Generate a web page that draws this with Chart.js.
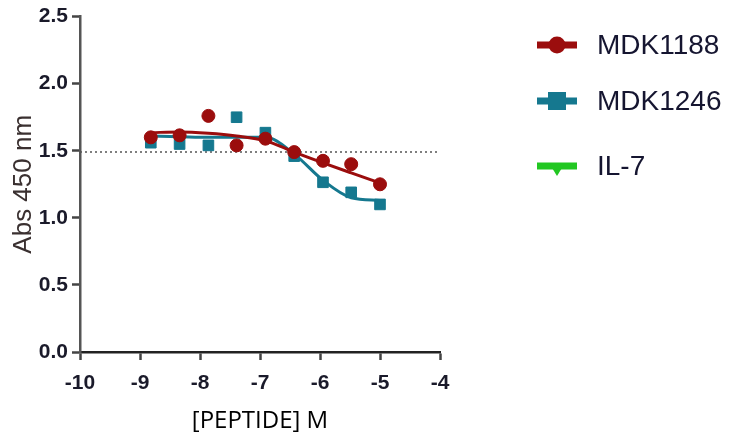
<!DOCTYPE html>
<html>
<head>
<meta charset="utf-8">
<script src="https://cdn.jsdelivr.net/npm/chart.js@4/dist/chart.umd.min.js"></script>
<style>
  html, body { margin: 0; padding: 0; background: #fff; }
  #wrap { width: 743px; height: 446px; position: relative; }
</style>
</head>
<body>
<div id="wrap"><canvas id="myChart"></canvas></div>
<script>
// log concentration of peptide (3-fold dilutions from 10 uM)
const logConc = [-8.82, -8.34, -7.86, -7.39, -6.91, -6.43, -5.95, -5.48, -5.0];

// measured absorbance
const mdk1188 = [1.60, 1.615, 1.76, 1.54, 1.59, 1.49, 1.425, 1.40, 1.25];
const mdk1246 = [1.56, 1.55, 1.54, 1.75, 1.635, 1.46, 1.265, 1.19, 1.10];
const il7 = [];

// fitted curves
const fit1188 = [1.635, 1.64, 1.63, 1.61, 1.575, 1.49, 1.41, 1.335, 1.26];
const fit1246 = [1.61, 1.605, 1.60, 1.60, 1.60, 1.475, 1.28, 1.15, 1.13];

// dotted reference line
const refX = [-10, -4];
const refY = [1.49, 1.49];

const xTicks = [-10, -9, -8, -7, -6, -5, -4];
const yTicks = [0, 0.5, 1, 1.5, 2, 2.5];

const RED = '#9b0d0d';
const TEAL = '#15788f';
const GREEN = '#22c722';

const tickFont = { family: '"Liberation Sans", Arial, sans-serif', size: 21, weight: 'bold' };

const pts = (xs, ys) => ys.map((y, i) => ({ x: xs[i], y: y }));

const legendLabels = ['MDK1188', 'MDK1246', 'IL-7'];
const legendColors = [RED, TEAL, GREEN];
const legendMarkers = ['circle', 'square', 'triangle'];

const sideLegend = {
  id: 'sideLegend',
  afterDraw(chart) {
    const c = chart.ctx;
    const rows = [45, 101, 166];
    c.save();
    legendLabels.forEach((label, i) => {
      const y = rows[i];
      const x0 = 537, x1 = 577, xm = 557;
      c.fillStyle = legendColors[i];
      c.fillRect(x0, y - 3.5, x1 - x0, 7);
      c.beginPath();
      if (legendMarkers[i] === 'circle') {
        c.arc(xm, y, 8.5, 0, Math.PI * 2);
      } else if (legendMarkers[i] === 'square') {
        c.rect(xm - 9, y - 9, 18, 18);
      } else {
        c.moveTo(xm - 8, y - 3);
        c.lineTo(xm + 8, y - 3);
        c.lineTo(xm, y + 10);
        c.closePath();
      }
      c.fill();
      c.fillStyle = '#151530';
      c.font = '28px "Liberation Sans", Arial, sans-serif';
      c.textBaseline = 'middle';
      c.fillText(label, 597, y + 1);
    });
    c.restore();
  },
};

const ctx = document.getElementById('myChart').getContext('2d');

const chart = new Chart(ctx, {
  type: 'scatter',
  data: {
    datasets: [
      {
        label: 'MDK1188',
        data: pts(logConc, mdk1188),
        backgroundColor: RED,
        borderColor: RED,
        pointStyle: 'circle',
        pointRadius: 6.5,
        order: 1,
      },
      {
        label: 'MDK1246',
        data: pts(logConc, mdk1246),
        backgroundColor: TEAL,
        borderColor: TEAL,
        pointStyle: 'rect',
        pointRadius: 7.5,
        order: 2,
      },
      {
        label: 'IL-7',
        data: il7,
        backgroundColor: GREEN,
        borderColor: GREEN,
        pointStyle: 'triangle',
        order: 3,
      },
      {
        label: 'fit 1188',
        type: 'line',
        data: pts(logConc, fit1188),
        borderColor: RED,
        borderWidth: 3,
        pointRadius: 0,
        cubicInterpolationMode: 'monotone',
        order: 4,
      },
      {
        label: 'fit 1246',
        type: 'line',
        data: pts(logConc, fit1246),
        borderColor: TEAL,
        borderWidth: 3,
        pointRadius: 0,
        cubicInterpolationMode: 'monotone',
        order: 5,
      },
      {
        label: 'ref',
        type: 'line',
        data: pts(refX, refY),
        borderColor: '#555',
        borderWidth: 1.5,
        borderDash: [2, 3],
        pointRadius: 0,
        order: 6,
      },
    ],
  },
  options: {
    responsive: true,
    maintainAspectRatio: false,
    animation: false,
    layout: { padding: { left: 0, right: 303, top: 15, bottom: 0 } },
    plugins: {
      legend: { display: false },
      tooltip: { enabled: false },
    },
    scales: {
      x: {
        type: 'linear',
        min: -10,
        max: -4,
        afterFit(scale) { scale.height = 94; },
        afterBuildTicks(scale) { scale.ticks = xTicks.map(v => ({ value: v })); },
        border: { display: true, color: '#222', width: 2.5 },
        grid: { drawOnChartArea: false, drawTicks: true, tickLength: 8, tickWidth: 2.5, tickColor: '#444' },
        ticks: {
          color: '#1a1a2a',
          padding: 11,
          font: tickFont,
          callback: (v) => String(v),
        },
        title: {
          display: true,
          text: '[PEPTIDE] M',
          color: '#000',
          font: { family: '"Open Sans", sans-serif', size: 24 },
          padding: { top: 0, bottom: 10 },
        },
      },
      y: {
        type: 'linear',
        min: 0,
        max: 2.5,
        afterFit(scale) { scale.width = 80; },
        afterBuildTicks(scale) { scale.ticks = yTicks.map(v => ({ value: v })); },
        border: { display: true, color: '#555', width: 2.5 },
        grid: { drawOnChartArea: false, drawTicks: true, tickLength: 8, tickWidth: 2.5, tickColor: '#444' },
        ticks: {
          color: '#1a1a2a',
          padding: 4,
          font: tickFont,
          callback: (v) => Number(v).toFixed(1),
        },
        title: {
          display: true,
          text: 'Abs 450 nm',
          color: '#3a3030',
          font: { family: '"Liberation Sans", Arial, sans-serif', size: 26 },
          padding: { top: 8, bottom: 0 },
        },
      },
    },
  },
  plugins: [sideLegend],
});
</script>
</body>
</html>
